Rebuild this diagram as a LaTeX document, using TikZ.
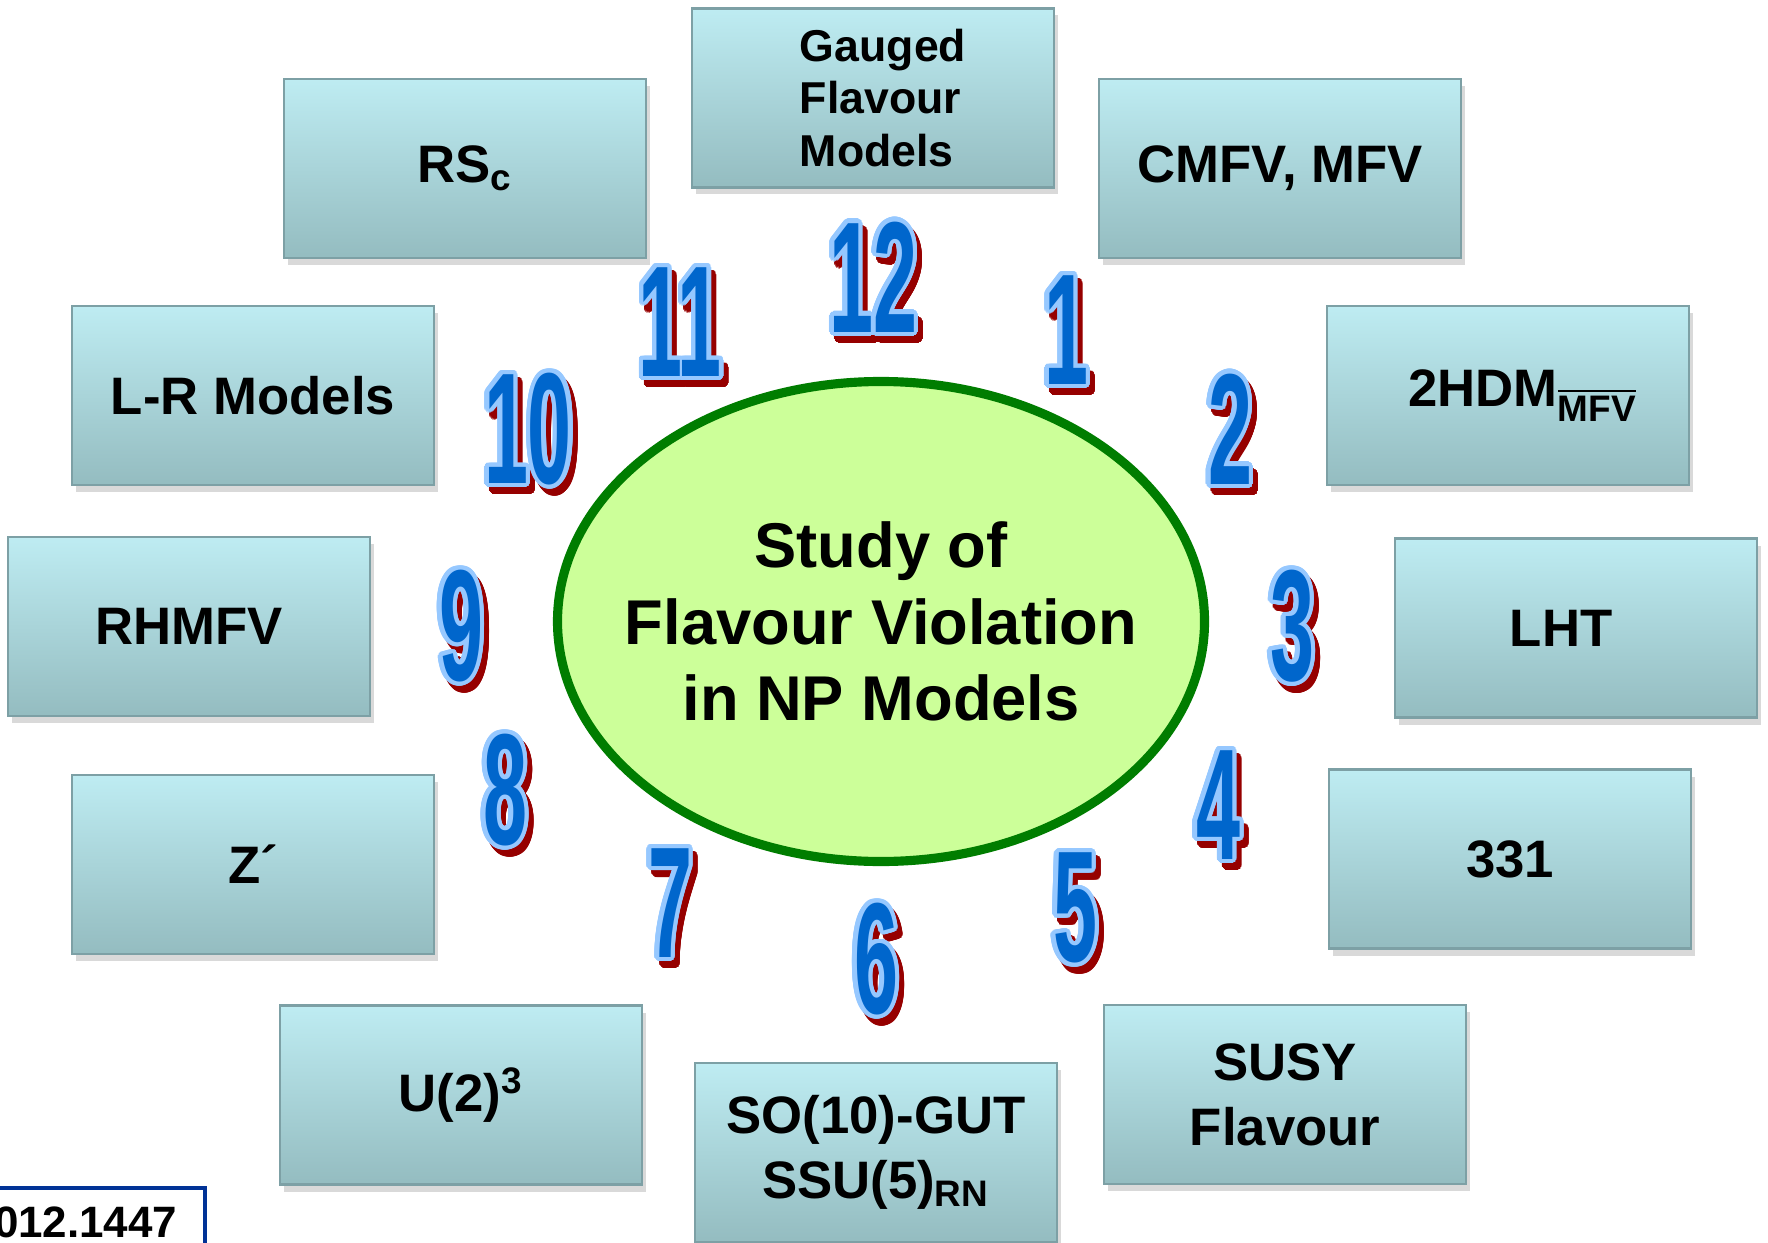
\documentclass[tikz,border=0pt]{standalone}
\usepackage{fontspec}
\setmainfont{Liberation Sans}
\newfontfamily\numfont[FakeStretch=0.5]{Liberation Sans}
\usepackage[copies]{contour}
\contourlength{1.2pt}
\contournumber{32}
\usetikzlibrary{shapes.geometric,shadows}
\definecolor{boxtop}{RGB}{190,236,242}
\definecolor{boxbottom}{RGB}{148,188,192}
\definecolor{boxedge}{RGB}{125,160,165}
\definecolor{ellfill}{RGB}{204,255,153}
\definecolor{elledge}{RGB}{0,125,0}
\definecolor{numblue}{RGB}{0,102,204}
\definecolor{numedge}{RGB}{150,200,255}
\definecolor{numred}{RGB}{150,0,0}
\definecolor{refblue}{RGB}{0,50,150}

\begin{document}
\begin{tikzpicture}[x=1cm,y=1cm,
  model/.style={draw=boxedge,line width=0.6pt,top color=boxtop,bottom color=boxbottom,
    minimum width=3.62cm,minimum height=1.79cm,align=center,inner sep=2pt,
    font=\fontsize{15}{18.5}\selectfont\bfseries,
    drop shadow={opacity=0.3,shadow xshift=0.04cm,shadow yshift=-0.07cm}},
  study/.style={ellipse,draw=elledge,line width=2.6pt,fill=ellfill,
    minimum width=6.47cm,minimum height=4.80cm,inner sep=0pt},
  studytext/.style={align=center,font=\fontsize{18}{21.8}\selectfont\bfseries},
  clocknum/.style={inner sep=0pt,text=numblue,font=\numfont\bfseries\fontsize{45}{45}\selectfont},
  numshadow/.style={clocknum,text=numred},
  refline/.style={draw=refblue,line width=1pt}]

\useasboundingbox (0,0) rectangle (17.68,-12.42);
\clip (0,0) rectangle (17.68,-12.42);

% models round the clock
\node[model] (rsc) at (4.65,-1.685) {RS\textsubscript{c}};
\node[model,align=left,font=\fontsize{12.7}{15}\selectfont\bfseries] (gauged) at (8.73,-0.98) {\hspace*{0.2cm}Gauged\\\hspace*{0.2cm}Flavour\\\hspace*{0.2cm}Models};
\node[model] (cmfv) at (12.80,-1.685) {CMFV, MFV};
\node[model] (lr) at (2.53,-3.955) {L-R Models};
\node[model] (thdm) at (15.08,-3.955) {\hspace*{0.3cm}2HDM\textsubscript{$\overline{\mbox{MFV}}$}};
\node[model] (rhmfv) at (1.89,-6.265) {RHMFV};
\node[model] (lht) at (15.76,-6.28) {LHT\hspace*{0.3cm}};
\node[model] (zprime) at (2.53,-8.645) {Z´};
\node[model] (tto) at (15.10,-8.59) {331};
\node[model] (utwo) at (4.61,-10.95) {U(2)\textsuperscript{3}};
\node[model] (sogut) at (8.76,-11.525) {SO(10)-GUT\\SSU(5)\textsubscript{RN}};
\node[model] (susy) at (12.85,-10.945) {SUSY\\Flavour};

% centre
\node[study] (study) at (8.81,-6.215) {};
\node[studytext] (studytxt) at (study.center) {Study of\\Flavour Violation\\in NP Models};

% clock numbers
\foreach \n/\x/\y in {12/8.75/-2.82, 1/10.68/-3.35, 2/12.32/-4.34, 3/12.94/-6.31,
  4/12.20/-8.10, 5/10.77/-9.13, 6/8.78/-9.64, 7/6.72/-9.08, 8/5.07/-7.95,
  9/4.63/-6.31, 10/5.30/-4.34, 11/6.82/-3.27}{
  \node[numshadow] at (\x+0.03,\y-0.04) {\contour{numred}{\n}};
  \node[clocknum] (n\n) at (\x-0.02,\y+0.03) {\contour{numedge}{\n}};
}

% reference
\node[anchor=base east,inner sep=0pt,font=\fontsize{12.5}{12.5}\selectfont\bfseries] (arxiv) at (1.78,-12.37) {012.1447};
\draw[refline] (-0.1,-11.88) -| (2.05,-12.6);
\end{tikzpicture}
\end{document}
